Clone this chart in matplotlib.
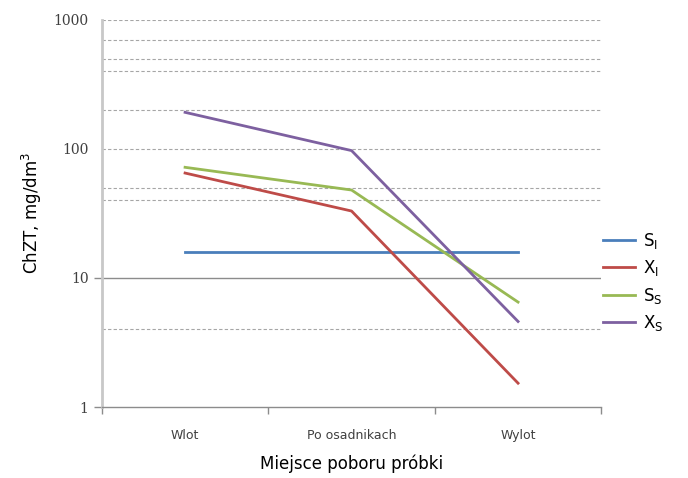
import matplotlib.pyplot as plt

# data
categories = ['Wlot', 'Po osadnikach', 'Wylot']
S_I = [16, 16, 16]
X_I = [65, 33, 1.53]
S_S = [72, 48, 6.5]
X_S = [192, 97, 4.6]

series = [
    (r'$\mathregular{S_I}$', S_I, '#4a7ebb'),
    (r'$\mathregular{X_I}$', X_I, '#be4b48'),
    (r'$\mathregular{S_S}$', S_S, '#98b954'),
    (r'$\mathregular{X_S}$', X_S, '#7d60a0'),
]

fig = plt.figure(figsize=(6.88, 4.78), dpi=100)
ax = fig.add_axes([0.148, 0.1485, 0.726, 0.81])

# gridlines as they appear in the source
solid_grid = [10]
dashed_grid = [4, 40, 50, 100, 200, 400, 500, 700, 1000]
for v in solid_grid:
    ax.axhline(v, color='#8c8c8c', lw=1.0, zorder=1)
for v in dashed_grid:
    ax.axhline(v, color='#a6a6a6', lw=0.8, ls=(0, (3, 2)), zorder=1)

x = list(range(len(categories)))
handles = []
for label, vals, col in series:
    ln, = ax.plot(x, vals, color=col, lw=2.0, zorder=3, label=label)
    handles.append(ln)

ax.set_yscale('log')
ax.set_ylim(1, 1000)
ax.set_xlim(-0.5, 2.5)

ax.set_yticks([1, 10, 100, 1000])
ax.set_yticklabels(['1', '10', '100', '1000'], family='DejaVu Serif', fontsize=10, color='#404040')
ax.minorticks_off()
ax.tick_params(axis='y', length=6, color='#8c8c8c', width=1)
for t in ax.yaxis.get_major_ticks()[2:]:
    t.tick1line.set_visible(False)

ax.set_xticks(x)
ax.set_xticklabels(categories, fontsize=9, color='#404040')
ax.tick_params(axis='x', length=0, pad=16)
ax.set_xticks([-0.5, 0.5, 1.5, 2.5], minor=True)
ax.tick_params(axis='x', which='minor', length=5, color='#8c8c8c', width=1)

for s in ['top', 'right']:
    ax.spines[s].set_visible(False)
ax.spines['left'].set_color('#c8c8c8')
ax.spines['left'].set_linewidth(2)
ax.spines['bottom'].set_color('#8c8c8c')
ax.spines['bottom'].set_linewidth(1)

ax.set_xlabel('Miejsce poboru próbki', fontsize=12, labelpad=9)
ax.set_ylabel(r'ChZT, mg/dm$^3$', fontsize=12, labelpad=7)

fig.legend(handles=handles, loc='center left', bbox_to_anchor=(0.855, 0.41),
           frameon=False, fontsize=12, handlelength=1.9, labelspacing=0.45,
           handletextpad=0.5)

fig.savefig('out.png', dpi=100)
